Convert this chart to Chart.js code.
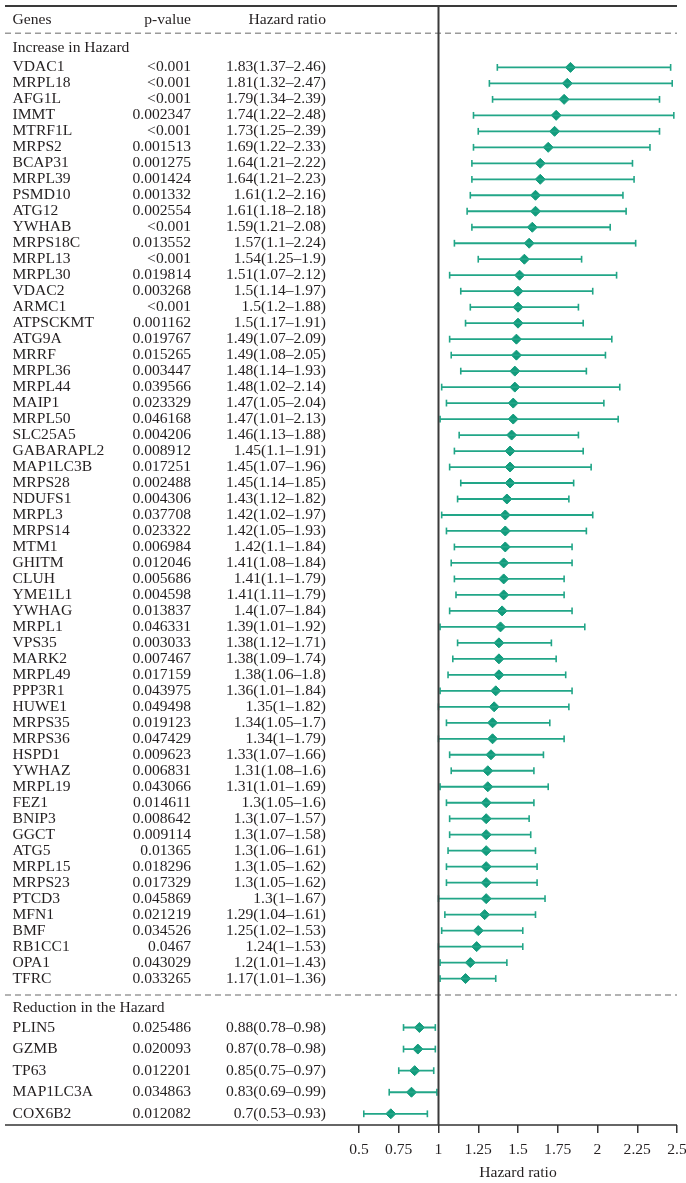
<!DOCTYPE html>
<html>
<head>
<meta charset="utf-8">
<script src="https://cdn.jsdelivr.net/npm/chart.js@4.4.1/dist/chart.umd.min.js"></script>
<style>
  html, body { margin: 0; padding: 0; background: #fff; }
  #wrap { width: 686px; height: 1183px; }
</style>
</head>
<body>
<div id="wrap"><canvas id="forest"></canvas></div>
<script>
// genes with increased hazard
const upGenes = ["VDAC1","MRPL18","AFG1L","IMMT","MTRF1L","MRPS2","BCAP31","MRPL39","PSMD10","ATG12",
  "YWHAB","MRPS18C","MRPL13","MRPL30","VDAC2","ARMC1","ATPSCKMT","ATG9A","MRRF","MRPL36",
  "MRPL44","MAIP1","MRPL50","SLC25A5","GABARAPL2","MAP1LC3B","MRPS28","NDUFS1","MRPL3","MRPS14",
  "MTM1","GHITM","CLUH","YME1L1","YWHAG","MRPL1","VPS35","MARK2","MRPL49","PPP3R1",
  "HUWE1","MRPS35","MRPS36","HSPD1","YWHAZ","MRPL19","FEZ1","BNIP3","GGCT","ATG5",
  "MRPL15","MRPS23","PTCD3","MFN1","BMF","RB1CC1","OPA1","TFRC"];
const upP = ["<0.001","<0.001","<0.001","0.002347","<0.001","0.001513","0.001275","0.001424","0.001332","0.002554",
  "<0.001","0.013552","<0.001","0.019814","0.003268","<0.001","0.001162","0.019767","0.015265","0.003447",
  "0.039566","0.023329","0.046168","0.004206","0.008912","0.017251","0.002488","0.004306","0.037708","0.023322",
  "0.006984","0.012046","0.005686","0.004598","0.013837","0.046331","0.003033","0.007467","0.017159","0.043975",
  "0.049498","0.019123","0.047429","0.009623","0.006831","0.043066","0.014611","0.008642","0.009114","0.01365",
  "0.018296","0.017329","0.045869","0.021219","0.034526","0.0467","0.043029","0.033265"];
const upHR = [1.83,1.81,1.79,1.74,1.73,1.69,1.64,1.64,1.61,1.61,
  1.59,1.57,1.54,1.51,1.5,1.5,1.5,1.49,1.49,1.48,
  1.48,1.47,1.47,1.46,1.45,1.45,1.45,1.43,1.42,1.42,
  1.42,1.41,1.41,1.41,1.4,1.39,1.38,1.38,1.38,1.36,
  1.35,1.34,1.34,1.33,1.31,1.31,1.3,1.3,1.3,1.3,
  1.3,1.3,1.3,1.29,1.25,1.24,1.2,1.17];
const upLow = [1.37,1.32,1.34,1.22,1.25,1.22,1.21,1.21,1.2,1.18,
  1.21,1.1,1.25,1.07,1.14,1.2,1.17,1.07,1.08,1.14,
  1.02,1.05,1.01,1.13,1.1,1.07,1.14,1.12,1.02,1.05,
  1.1,1.08,1.1,1.11,1.07,1.01,1.12,1.09,1.06,1.01,
  1,1.05,1,1.07,1.08,1.01,1.05,1.07,1.07,1.06,
  1.05,1.05,1,1.04,1.02,1,1.01,1.01];
const upHigh = [2.46,2.47,2.39,2.48,2.39,2.33,2.22,2.23,2.16,2.18,
  2.08,2.24,1.9,2.12,1.97,1.88,1.91,2.09,2.05,1.93,
  2.14,2.04,2.13,1.88,1.91,1.96,1.85,1.82,1.97,1.93,
  1.84,1.84,1.79,1.79,1.84,1.92,1.71,1.74,1.8,1.84,
  1.82,1.7,1.79,1.66,1.6,1.69,1.6,1.57,1.58,1.61,
  1.62,1.62,1.67,1.61,1.53,1.53,1.43,1.36];

// genes with reduced hazard
const downGenes = ["PLIN5","GZMB","TP63","MAP1LC3A","COX6B2"];
const downP = ["0.025486","0.020093","0.012201","0.034863","0.012082"];
const downHR = [0.88,0.87,0.85,0.83,0.7];
const downLow = [0.78,0.78,0.75,0.69,0.53];
const downHigh = [0.98,0.98,0.97,0.99,0.93];

const xTicks = [0.5,0.75,1,1.25,1.5,1.75,2,2.25,2.5];

// layout in row units (one row of the upper group = 1)
const headerRow = -2.97, topDashRow = -2.14, upLabelRow = -1.22;
const lowDashRow = 58.03, downLabelRow = 58.84, downStart = 60.06, downStep = 1.35;

const green = '#129b7c';
const lineGreen = '#22a688';
const ink = '#231f20';
const fontName = "'Liberation Serif', 'Times New Roman', serif";
const fontSize = 15.6;

// one list of rows for drawing
const rows = [];
upGenes.forEach((g, i) => rows.push({gene: g, p: upP[i], hr: upHR[i], lo: upLow[i], hi: upHigh[i], pos: i}));
downGenes.forEach((g, i) => rows.push({gene: g, p: downP[i], hr: downHR[i], lo: downLow[i], hi: downHigh[i], pos: downStart + i * downStep}));

const ciData = [];
const capData = [];
rows.forEach(r => {
  ciData.push({x: r.lo, y: r.pos}, {x: r.hi, y: r.pos}, {x: null, y: null});
  capData.push({x: r.lo, y: r.pos}, {x: r.hi, y: r.pos});
});
const hrData = rows.map(r => ({x: r.hr, y: r.pos}));

const tablePlugin = {
  id: 'tablePlugin',
  afterDraw(chart) {
    const ctx = chart.ctx;
    const area = chart.chartArea;
    const ys = chart.scales.y;
    const xs = chart.scales.x;
    const left = 5, right = 677;
    ctx.save();

    // top rule
    ctx.strokeStyle = '#3a3a3a';
    ctx.lineWidth = 2;
    ctx.beginPath(); ctx.moveTo(left, area.top); ctx.lineTo(right, area.top); ctx.stroke();

    // bottom axis line across the whole width
    ctx.lineWidth = 1.5;
    ctx.strokeStyle = '#333';
    ctx.beginPath(); ctx.moveTo(left, area.bottom); ctx.lineTo(right, area.bottom); ctx.stroke();

    // dashed separators
    ctx.strokeStyle = '#9a9a9a';
    ctx.lineWidth = 1.6;
    ctx.setLineDash([6, 4]);
    [topDashRow, lowDashRow].forEach(v => {
      const y = ys.getPixelForValue(v);
      ctx.beginPath(); ctx.moveTo(left, y); ctx.lineTo(right, y); ctx.stroke();
    });
    ctx.setLineDash([]);

    // reference line at HR = 1
    const x1 = xs.getPixelForValue(1);
    ctx.strokeStyle = '#3a3a3a';
    ctx.lineWidth = 2;
    ctx.beginPath(); ctx.moveTo(x1, area.top); ctx.lineTo(x1, area.bottom); ctx.stroke();

    // table text
    ctx.fillStyle = ink;
    ctx.font = fontSize + 'px ' + fontName;
    ctx.textBaseline = 'middle';
    const geneX = 12.5, pX = 191, hrX = 326;

    let y = ys.getPixelForValue(headerRow);
    ctx.textAlign = 'left'; ctx.fillText('Genes', geneX, y);
    ctx.textAlign = 'right'; ctx.fillText('p-value', pX, y); ctx.fillText('Hazard ratio', hrX, y);

    ctx.textAlign = 'left';
    ctx.fillText('Increase in Hazard', geneX, ys.getPixelForValue(upLabelRow));
    ctx.fillText('Reduction in the Hazard', geneX, ys.getPixelForValue(downLabelRow));

    rows.forEach(r => {
      const ry = ys.getPixelForValue(r.pos);
      ctx.textAlign = 'left';
      ctx.fillText(r.gene, geneX, ry);
      ctx.textAlign = 'right';
      ctx.fillText(r.p, pX, ry);
      ctx.fillText(r.hr + '(' + r.lo + '\u2013' + r.hi + ')', hrX, ry);
    });
    ctx.restore();
  }
};

Chart.defaults.font.family = fontName;
Chart.defaults.font.size = fontSize;
Chart.defaults.color = ink;

new Chart(document.getElementById('forest'), {
  type: 'scatter',
  data: {
    datasets: [
      {
        label: 'CI',
        data: ciData,
        showLine: true,
        spanGaps: false,
        borderColor: lineGreen,
        borderWidth: 1.8,
        pointRadius: 0,
        clip: false
      },
      {
        label: 'caps',
        data: capData,
        pointStyle: 'line',
        rotation: 90,
        pointRadius: 3.4,
        borderColor: lineGreen,
        borderWidth: 1.6,
        clip: false
      },
      {
        label: 'HR',
        data: hrData,
        pointStyle: 'rectRot',
        pointRadius: 5,
        backgroundColor: green,
        borderColor: green,
        borderWidth: 1,
        clip: false
      }
    ]
  },
  options: {
    responsive: true,
    maintainAspectRatio: false,
    animation: false,
    events: [],
    layout: { padding: { left: 359, right: 9, top: 5, bottom: 0 } },
    plugins: {
      legend: { display: false },
      tooltip: { enabled: false }
    },
    scales: {
      x: {
        type: 'linear',
        min: 0.5,
        max: 2.5,
        afterBuildTicks: axis => { axis.ticks = xTicks.map(v => ({value: v})); },
        afterFit: axis => { axis.height = 58; axis.paddingLeft = 0; axis.paddingRight = 0; },
        ticks: { padding: 8, color: ink, callback: v => String(v) },
        grid: { drawOnChartArea: false, drawTicks: true, tickLength: 8, color: '#333', lineWidth: 1.5 },
        border: { display: false },
        title: { display: true, text: 'Hazard ratio', color: ink, padding: { top: 4, bottom: 1 } }
      },
      y: {
        type: 'linear',
        reverse: true,
        min: -3.84,
        max: 66.16,
        display: false
      }
    }
  },
  plugins: [tablePlugin]
});
</script>
</body>
</html>
